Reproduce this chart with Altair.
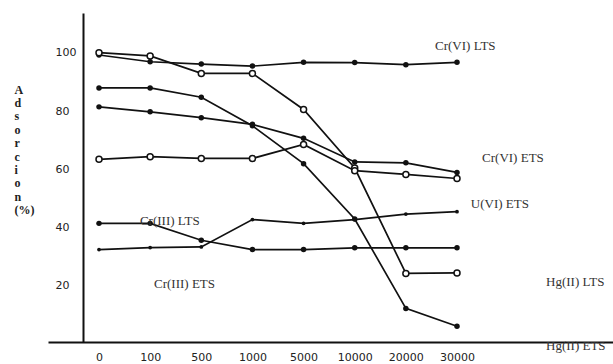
import altair as alt
import pandas as pd

categories = ["0", "100", "500", "1000", "5000", "10000", "20000", "30000"]

cr6_lts = [99.3, 97.0, 96.2, 95.5, 96.8, 96.7, 96.0, 96.8]
hg2_lts = [100.1, 99.0, 93.0, 93.0, 80.6, 60.5, 24.3, 24.5]
hg2_ets = [88.0, 88.0, 84.8, 75.0, 62.0, 43.0, 12.3, 6.2]
cr6_ets = [81.5, 79.8, 77.8, 75.5, 70.7, 62.6, 62.3, 59.0]
u6_ets = [63.5, 64.4, 63.8, 63.8, 68.6, 59.6, 58.3, 56.9]
cr3_lts = [41.5, 41.5, 35.7, 32.5, 32.5, 33.1, 33.1, 33.1]
cr3_ets = [32.5, 33.2, 33.4, 42.8, 41.5, 42.8, 44.7, 45.5]

series_names = ["Cr(VI) LTS", "Hg(II) LTS", "Hg(II) ETS", "Cr(VI) ETS",
                "U(VI) ETS", "Cr(III) LTS", "Cr(III) ETS"]
series_values = [cr6_lts, hg2_lts, hg2_ets, cr6_ets, u6_ets, cr3_lts, cr3_ets]
marker_kind = ["filled", "open", "filled", "filled", "open", "filled", "small"]

label_texts = ["Cr(VI) LTS", "Cr(VI) ETS", "U(VI) ETS", "Hg(II) LTS",
               "Hg(II) ETS", "Cr(III) LTS", "Cr(III) ETS"]
label_x = [6.57, 7.49, 7.27, 8.74, 8.74, 0.80, 1.075]
label_y = [101.0, 62.6, 46.8, 20.0, -2.0, 40.9, 19.3]

y_title = ["A", "d", "s", "o", "r", "c", "i", "o", "n", "(%)"]

rows = []
for name, vals, kind in zip(series_names, series_values, marker_kind):
    for i, v in enumerate(vals):
        rows.append({"series": name, "idx": i, "value": v, "kind": kind})
df = pd.DataFrame(rows)

labels_df = pd.DataFrame({"text": label_texts, "x": label_x, "y": label_y})

label_expr = "[" + ",".join("'%s'" % c for c in categories) + "][datum.value]"

x_scale = alt.Scale(domain=[-0.9972, 10.05], nice=False, zero=False)
y_scale = alt.Scale(domain=[0.77, 113.73], nice=False, zero=False)

x_enc = alt.X("idx:Q", scale=x_scale,
              axis=alt.Axis(values=list(range(len(categories))), labelExpr=label_expr,
                            ticks=False, grid=False, domainColor="#111", domainWidth=2,
                            labelFont="DejaVu Sans", labelFontSize=11, labelColor="#222",
                            labelPadding=9, title=None))
y_enc = alt.Y("value:Q", scale=y_scale,
              axis=alt.Axis(values=[20, 40, 60, 80, 100], offset=-35, ticks=False,
                            grid=False, labelAlign="left", labelPadding=28,
                            labelFont="DejaVu Sans", labelFontSize=11, labelColor="#222",
                            domainColor="#111", domainWidth=2,
                            title=y_title, titleAngle=0, titleAlign="left",
                            titleBaseline="top", titleX=-69, titleY=71,
                            titleFont="Liberation Serif", titleFontSize=12,
                            titleFontWeight="bold", titleLineHeight=13.4,
                            titleColor="#222"))

base = alt.Chart(df)

lines = base.mark_line(color="#111", strokeWidth=1.7).encode(
    x=x_enc, y=y_enc, detail="series:N")

filled = base.transform_filter(alt.datum.kind == "filled").mark_point(
    shape="circle", filled=True, color="#111", size=30, opacity=1).encode(
    x=alt.X("idx:Q", scale=x_scale), y=alt.Y("value:Q", scale=y_scale))

small = base.transform_filter(alt.datum.kind == "small").mark_point(
    shape="circle", filled=True, color="#111", size=14, opacity=1).encode(
    x=alt.X("idx:Q", scale=x_scale), y=alt.Y("value:Q", scale=y_scale))

openpts = base.transform_filter(alt.datum.kind == "open").mark_point(
    shape="circle", filled=True, fill="white", stroke="#111", strokeWidth=1.5,
    size=36, opacity=1).encode(
    x=alt.X("idx:Q", scale=x_scale), y=alt.Y("value:Q", scale=y_scale))

texts = alt.Chart(labels_df).mark_text(
    align="left", baseline="alphabetic", font="Liberation Serif", fontSize=13,
    color="#333").encode(
    x=alt.X("x:Q", scale=x_scale), y=alt.Y("y:Q", scale=y_scale), text="text:N")

chart = alt.layer(lines, filled, small, openpts, texts).properties(
    width=565, height=329,
    autosize=alt.AutoSizeParams(type="none"),
    padding={"left": 48, "top": 13, "right": 0, "bottom": 22},
    background="white",
).configure_view(stroke=None)

chart.save("out.html", embed_options={"renderer": "svg", "actions": False})
